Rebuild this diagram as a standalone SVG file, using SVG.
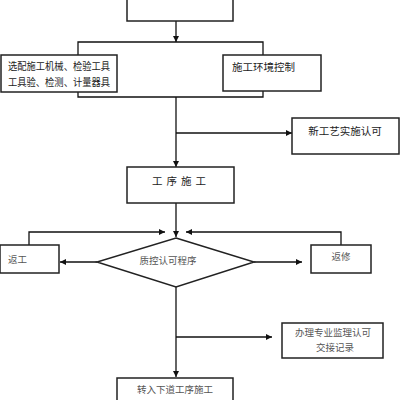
<svg xmlns="http://www.w3.org/2000/svg" width="400" height="400" viewBox="0 0 400 400">
<defs>
<marker id="ah" viewBox="0 0 10 10" refX="10" refY="5" markerWidth="6" markerHeight="6" markerUnits="userSpaceOnUse" orient="auto">
<path d="M0,0 L10,5 L0,10 z" fill="#111"/>
</marker>
<style>
.box{fill:#fff;stroke:#222;stroke-width:1.5}
.ln{fill:none;stroke:#111;stroke-width:1.3}
.ar{fill:none;stroke:#111;stroke-width:1.3;marker-end:url(#ah)}
.s{font-family:"Noto Sans CJK SC","Noto Sans",sans-serif;fill:#222;font-size:10.5px}
.r{font-family:"Noto Sans CJK SC","Noto Sans",sans-serif;fill:#555;font-size:9.5px}
</style>
</defs>
<rect width="400" height="400" fill="#fff"/>
<g id="connectors">
<path class="ar" d="M176,21 V42"/>
<path class="ln" d="M78,55 V42 H263 V55"/>
<path class="ln" d="M78,92 V97 H263 V91"/>
<path class="ar" d="M176,97 V167"/>
<path class="ar" d="M176,133 H292"/>
<path class="ar" d="M176,203 V237"/>
<path class="ar" d="M29,245 V232 H165"/>
<path class="ar" d="M341,245 V232 H186"/>
<path class="ar" d="M97,262 H60"/>
<path class="ar" d="M254,262 H302"/>
<path class="ar" d="M176,287 V377"/>
<path class="ar" d="M176,337 H272"/>
</g>
<g id="n-top"><rect class="box" x="127" y="-20" width="106" height="41"/></g>
<g id="n-xuanpei"><rect class="box" x="1" y="55" width="116" height="37"/>
<text class="s" x="8" y="70" font-size="9.8" textLength="102" lengthAdjust="spacingAndGlyphs">选配施工机械、检验工具</text>
<text class="s" x="8" y="86" font-size="9.8" textLength="102" lengthAdjust="spacingAndGlyphs">工具验、检测、计量器具</text></g>
<g id="n-huanjing"><rect class="box" x="223" y="55" width="98" height="36"/>
<text class="s" x="232" y="71">施工环境控制</text></g>
<g id="n-xingongyi"><rect class="box" x="292" y="118" width="107" height="36"/>
<text class="s" x="345" y="135" text-anchor="middle" font-size="11">新工艺实施认可</text></g>
<g id="n-gongxu"><rect class="box" x="127" y="167" width="107" height="36"/>
<text class="s" x="181" y="185" text-anchor="middle" letter-spacing="4">工序施工</text></g>
<g id="n-zhikong"><polygon class="box" points="176,238 254,262 176,287 97,262"/>
<text class="r" x="168" y="264" text-anchor="middle">质控认可程序</text></g>
<g id="n-fangong"><rect class="box" x="0" y="245" width="59" height="28"/>
<text class="r" x="8" y="263">返工</text></g>
<g id="n-fanxiu"><rect class="box" x="311" y="245" width="60" height="28"/>
<text class="r" x="341" y="260" text-anchor="middle">返修</text></g>
<g id="n-banli"><rect class="box" x="282" y="323" width="101" height="35"/>
<text class="r" x="333" y="336" text-anchor="middle">办理专业监理认可</text>
<text class="r" x="335" y="351" text-anchor="middle">交接记录</text></g>
<g id="n-zhuanru"><rect class="box" x="117" y="378" width="116" height="40"/>
<text class="r" x="175" y="393" text-anchor="middle">转入下道工序施工</text></g>
</svg>
